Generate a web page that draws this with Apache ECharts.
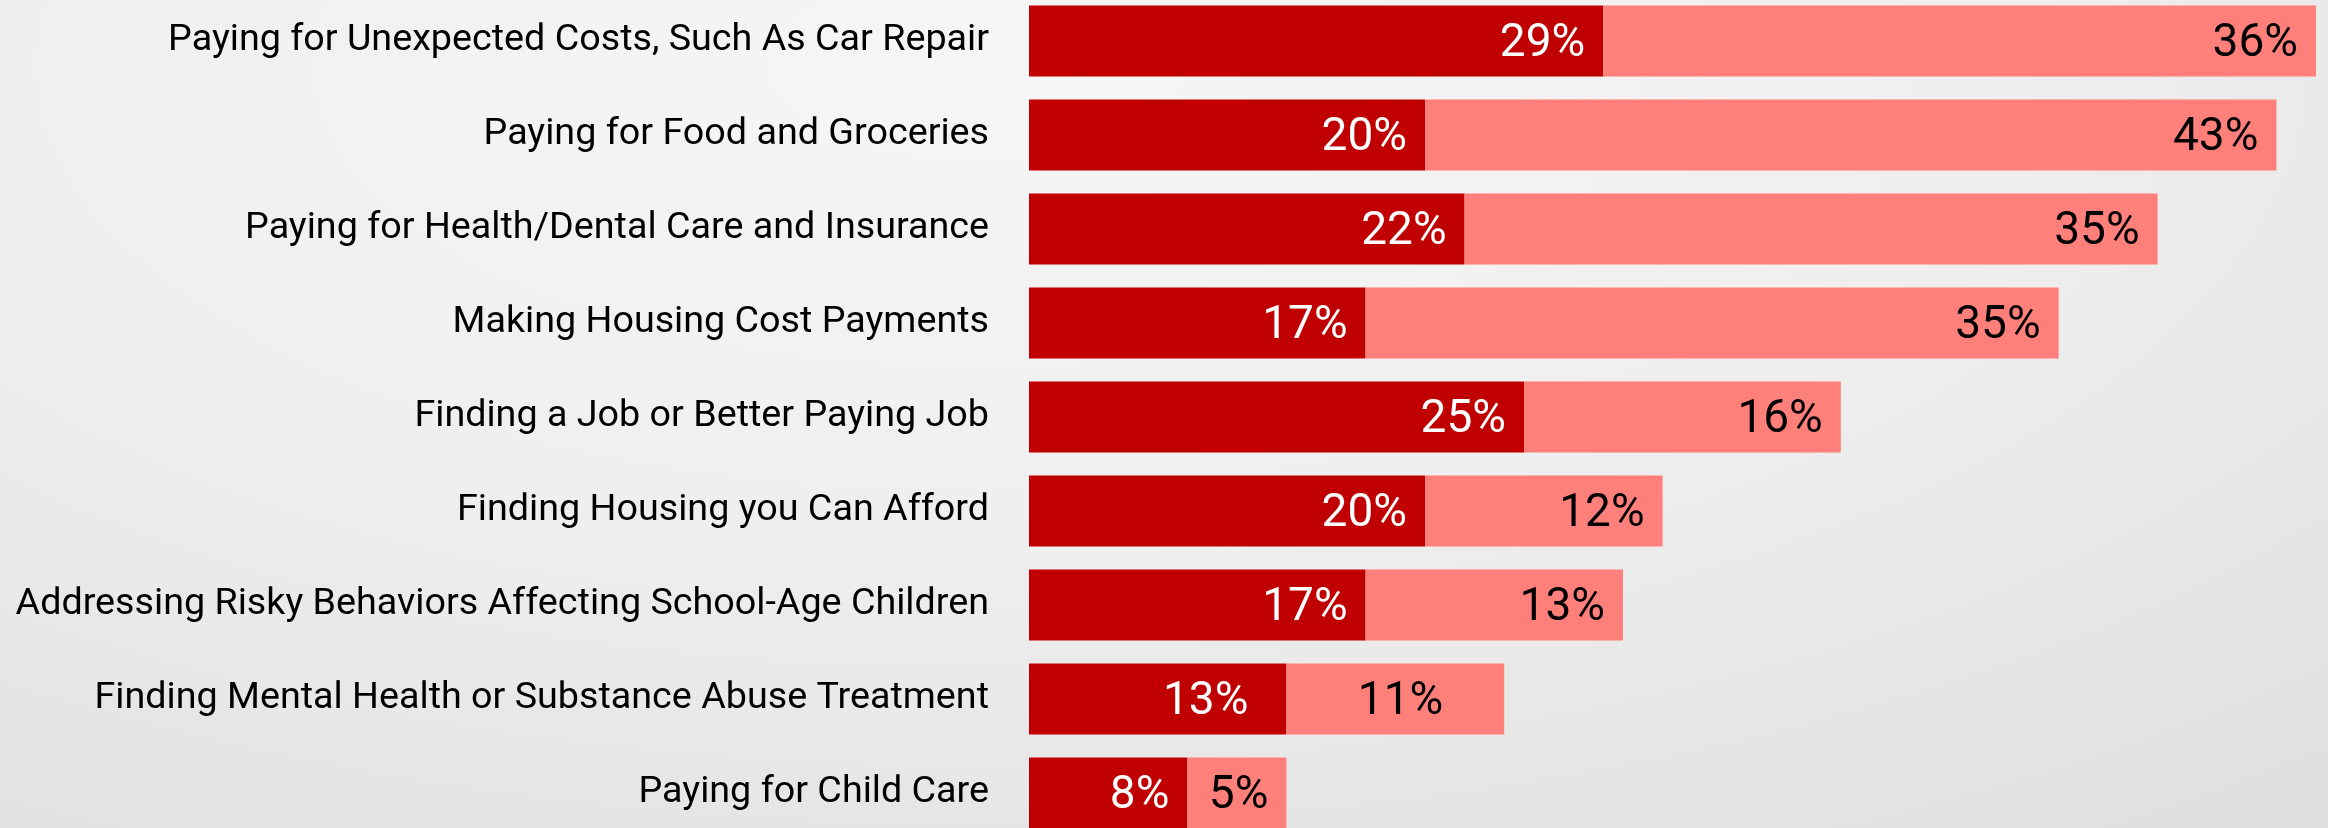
<!DOCTYPE html>
<html>
<head>
<meta charset="utf-8">
<script src="https://cdn.jsdelivr.net/npm/echarts@6/dist/echarts.min.js"></script>
<style>
  html, body { margin: 0; padding: 0; }
  body {
    width: 2328px; height: 828px; overflow: hidden; position: relative;
    background: radial-gradient(ellipse 110% 140% at 42% 8%, #f6f6f6 0%, #efefef 40%, #e2e2e2 75%, #d9d9d9 100%);
  }
  #chart { position: absolute; left: 0; top: -6px; width: 2328px; height: 846px; }
</style>
</head>
<body>
<div id="chart"></div>
<script>
const categories = [
  'Paying for Unexpected Costs, Such As Car Repair',
  'Paying for Food and Groceries',
  'Paying for Health/Dental Care and Insurance',
  'Making Housing Cost Payments',
  'Finding a Job or Better Paying Job',
  'Finding Housing you Can Afford',
  'Addressing Risky Behaviors Affecting School-Age Children',
  'Finding Mental Health or Substance Abuse Treatment',
  'Paying for Child Care'
];
const darkValues = [29, 20, 22, 17, 25, 20, 17, 13, 8];
const lightValues = [36, 43, 35, 35, 16, 12, 13, 11, 5];

const darkLabelShift = { 7: -20 };
const lightLabelShift = { 7: -43 };

function buildData(values, shifts) {
  return values.map((v, i) => ({
    value: v,
    label: { offset: [shifts[i] !== undefined ? shifts[i] : 0, 3] }
  }));
}

const chart = echarts.init(document.getElementById('chart'), null, { renderer: 'canvas' });
const labelBase = {
  show: true,
  position: 'insideRight',
  distance: 18,
  fontFamily: 'Roboto',
  fontSize: 46,
  formatter: p => p.value + '%'
};
chart.setOption({
  backgroundColor: 'transparent',
  animation: false,
  grid: { left: 1029, right: 12, top: 0, bottom: 0, containLabel: false },
  xAxis: {
    type: 'value', min: 0, max: 65,
    show: false
  },
  yAxis: {
    type: 'category',
    data: categories,
    inverse: true,
    axisLine: { show: false },
    axisTick: { show: false },
    splitLine: { show: false },
    axisLabel: {
      margin: 40,
      fontFamily: 'Roboto',
      fontSize: 37.7,
      color: '#000',
      padding: [4, 0, 0, 0]
    }
  },
  series: [
    {
      type: 'bar', stack: 'total',
      data: buildData(darkValues, darkLabelShift),
      barCategoryGap: '24.5%',
      itemStyle: { color: '#C00000' },
      label: Object.assign({}, labelBase, { color: '#ffffff' })
    },
    {
      type: 'bar', stack: 'total',
      data: buildData(lightValues, lightLabelShift),
      barCategoryGap: '24.5%',
      itemStyle: { color: '#FF7F7B' },
      label: Object.assign({}, labelBase, { color: '#000000' })
    }
  ]
});
</script>
</body>
</html>
